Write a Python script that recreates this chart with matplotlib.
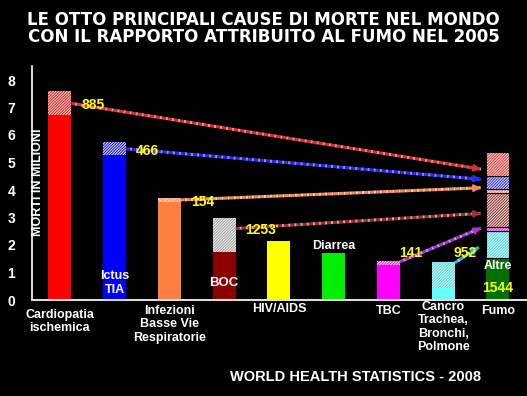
import matplotlib
matplotlib.use("Agg")
import matplotlib.pyplot as plt

# Data (millions of deaths)
categories = ["Cardiopatia\nischemica", "Ictus\nTIA", "Infezioni\nBasse Vie\nRespiratorie",
              "BOC", "HIV/AIDS", "Diarrea", "TBC",
              "Cancro\nTrachea,\nBronchi,\nPolmone", "Fumo"]
totals = [7.6, 5.75, 3.7, 3.0, 2.15, 1.72, 1.43, 1.38]
smoke = [0.885, 0.466, 0.154, 1.253, 0.0, 0.0, 0.141, 0.952]
smoke_labels = ["885", "466", "154", "1253", "", "", "141", "952"]
altre = 1.544
arrow_start_y = [7.15, 5.5, 3.64, 2.6, None, None, 1.39, 1.35]
arrow_end_y = [4.76, 4.39, 4.08, 3.15, None, None, 2.62, 1.92]

colors = ["#ff0000", "#0000ff", "#ff7f40", "#8b0000", "#ffff00", "#00ee00", "#ff00ff", "#66ffff"]
hatch_face = ["#ff0000", "#0000ff", "#ff7f40", "#a0a0a0", None, None, "#ff00ff", "#33dddd"]
fumo_face = ["#ff2020", "#2020ff", "#ff7f40", "#8b2020", None, None, "#ff00ff", "#33dddd"]
arrow_colors = ["#d83030", "#2828ff", "#ff8a50", "#9a3030", None, None, "#b030d8", "#20b8e0"]
arrow_gaps = ["#ff9090", "#9090ff", "#ffd0b0", "#e0a0a0", None, None, "#e090ff", "#90f0ff"]
altre_color = "#007000"

plt.rcParams["font.family"] = ["Liberation Sans", "DejaVu Sans"]
plt.rcParams["hatch.linewidth"] = 0.7

fig = plt.figure(figsize=(5.27, 3.96), dpi=100, facecolor="black")
ax = fig.add_axes([32 / 527, 96 / 396, 495 / 527, 233.75 / 396])
ax.set_facecolor("black")
ax.set_xlim(-0.51, 8.53)
ax.set_ylim(0, 8.5)

w = 0.42
fumo_x = 8
hatch = "////////////"

# Main bars: solid part + hatched smoking part on top
for i, (tot, sm) in enumerate(zip(totals, smoke)):
    ax.bar(i, tot - sm, width=w, color=colors[i], linewidth=0)
    if sm > 0:
        ax.bar(i, sm, bottom=tot - sm, width=w, color=hatch_face[i],
               edgecolor="#f0f0f0", hatch=hatch, linewidth=0)

# Fumo stacked bar
ax.bar(fumo_x, altre, width=w, color=altre_color, linewidth=0)
bottom = altre
for i in [7, 6, 3, 2, 1, 0]:
    ax.bar(fumo_x, smoke[i], bottom=bottom, width=w, color=fumo_face[i],
           edgecolor="#f0f0f0", hatch=hatch, linewidth=0)
    ax.bar(fumo_x, smoke[i], bottom=bottom, width=w, fill=False,
           edgecolor="black", linewidth=0.8)
    bottom += smoke[i]

# Arrows from each bar to the Fumo bar (dotted line + solid head)
for i in [0, 1, 2, 3, 6, 7]:
    x0 = i + w / 2
    x1 = fumo_x - w / 2 - 0.1 if i != 7 else fumo_x - w / 2 - 0.14
    y0, y1 = arrow_start_y[i], arrow_end_y[i]
    ax.plot([x0, x1], [y0, y1], color=arrow_colors[i], lw=2.2,
            linestyle=(0, (1.2, 0.8)), gapcolor=arrow_gaps[i], zorder=3)
    f = 0.97 if i != 7 else 0.8
    ax.annotate("", xy=(x1, y1), xytext=(x0 + (x1 - x0) * f, y0 + (y1 - y0) * f),
                arrowprops=dict(arrowstyle="-|>", color=arrow_colors[i], lw=1.5,
                                mutation_scale=10, shrinkA=0, shrinkB=0), zorder=3)

# Yellow numbers
for i in [0, 1, 2, 3]:
    ax.text(i + w / 2 + 0.18, arrow_start_y[i] - 0.07, smoke_labels[i],
            color="#ffff00", fontsize=10, fontweight="bold", ha="left", va="center",
            zorder=4)
for i in [6, 7]:
    ax.text(i + w / 2 - 0.02, 1.72, smoke_labels[i], color="#ffff00",
            fontsize=10, fontweight="bold", ha="left", va="center", zorder=4)

# Labels inside / above bars
ax.text(1, 0.62, categories[1], color="white", fontsize=9, fontweight="bold",
        ha="center", va="center", linespacing=1.2)
ax.text(3, 0.62, categories[3], color="white", fontsize=9.5, fontweight="bold",
        ha="center", va="center")
ax.text(5, 1.96, categories[5], color="white", fontsize=9, fontweight="bold",
        ha="center", va="center")
ax.text(fumo_x, 1.24, "Altre", color="white", fontsize=9, fontweight="bold",
        ha="center", va="center")
ax.text(fumo_x, 0.44, str(int(altre * 1000)), color="#ffff00", fontsize=10,
        fontweight="bold", ha="center", va="center")

# Category labels under the axis
below = {0: -0.33, 2: -0.18, 4: -0.12, 6: -0.18, 7: -0.04, 8: -0.18}
for i, y in below.items():
    ax.text(i, y, categories[i], color="white", fontsize=9, fontweight="bold",
            ha="center", va="top", linespacing=1.15, clip_on=False)

# Y axis label inside the plot
ax.text(-0.40, 4.3, "MORTI IN MILIONI", color="white", fontsize=9, fontweight="bold",
        rotation=90, ha="center", va="center")

for s in ["top", "right"]:
    ax.spines[s].set_visible(False)
ax.spines["left"].set_color("white")
ax.spines["bottom"].set_color("#dddddd")
ax.spines["left"].set_linewidth(1.2)
ax.spines["bottom"].set_linewidth(1.5)
ax.set_xticks([])
ax.set_yticks(range(9))
ax.tick_params(axis="y", length=0, pad=12, colors="white", labelsize=10)
for t in ax.get_yticklabels():
    t.set_fontweight("bold")

fig.text(0.5, 1 - 20 / 396, "LE OTTO PRINCIPALI CAUSE DI MORTE NEL MONDO",
         color="white", fontsize=12, fontweight="bold", family="DejaVu Sans",
         ha="center", va="center")
fig.text(0.5, 1 - 37 / 396, "CON IL RAPPORTO ATTRIBUITO AL FUMO NEL 2005",
         color="white", fontsize=12, fontweight="bold", family="DejaVu Sans",
         ha="center", va="center")

fig.text(356 / 527, 1 - 377 / 396, "WORLD HEALTH STATISTICS - 2008", color="white",
         fontsize=10.5, fontweight="bold", ha="center", va="center")

fig.savefig("out.png", dpi=100, facecolor="black")
